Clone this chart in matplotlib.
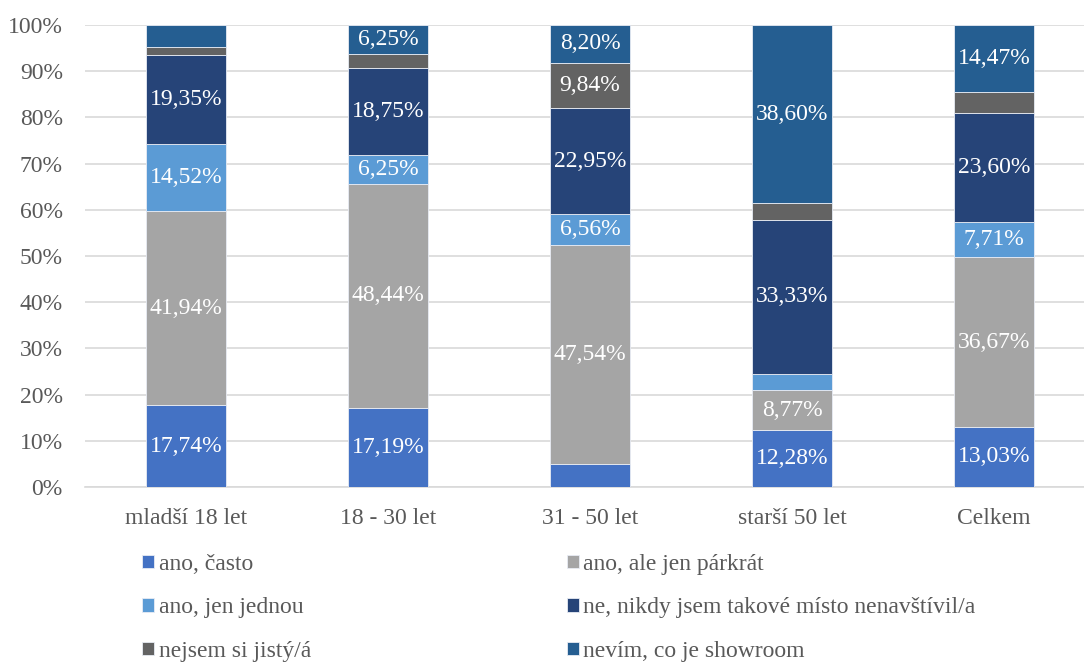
import matplotlib.pyplot as plt
import numpy as np

plt.rcParams['font.family'] = ['Liberation Serif', 'DejaVu Serif']

categories = ['mladší 18 let', '18 - 30 let', '31 - 50 let', 'starší 50 let', 'Celkem']
series_names = ['ano, často', 'ano, ale jen párkrát', 'ano, jen jednou',
                'ne, nikdy jsem takové místo nenavštívil/a', 'nejsem si jistý/á',
                'nevím, co je showroom']

ano_casto = [17.74, 17.19, 4.92, 12.28, 13.03]
ano_parkrat = [41.94, 48.44, 47.54, 8.77, 36.67]
ano_jednou = [14.52, 6.25, 6.56, 3.51, 7.71]
ne_nikdy = [19.35, 18.75, 22.95, 33.33, 23.60]
nejsem = [1.61, 3.13, 9.84, 3.51, 4.52]
nevim = [4.84, 6.25, 8.20, 38.60, 14.47]

colors = ['#4472C4', '#A5A5A5', '#5B9BD5', '#264478', '#636363', '#255E91']

fig = plt.figure(figsize=(10.84, 6.62), dpi=100)
ax = fig.add_axes([85 / 1084, 1 - 487 / 662, 1 - 85 / 1084, 462 / 662])

x = np.arange(len(categories))
bottom = np.zeros(len(categories))
handles = []
for name, vals, col in zip(series_names,
                           [ano_casto, ano_parkrat, ano_jednou, ne_nikdy, nejsem, nevim],
                           colors):
    vals = np.array(vals)
    bars = ax.bar(x, vals, 0.4, bottom=bottom, color=col, edgecolor='#E8ECF4',
                  linewidth=0.6, label=name, zorder=3)
    # small segments stay unlabelled
    labels = [f'{v:.2f}%'.replace('.', ',') if v >= 5 else '' for v in vals]
    ax.bar_label(bars, labels=labels, label_type='center', color='white',
                 fontsize=17, zorder=4)
    bottom += vals
    handles.append(bars)

ax.set_ylim(0, 100)
ax.set_xlim(-0.5, (1084 - 186) / 202)
ax.set_yticks(np.arange(0, 101, 10))
ax.set_yticklabels([f'{t}%' for t in range(0, 101, 10)])
ax.set_xticks(x)
ax.set_xticklabels(categories)
ax.tick_params(axis='both', length=0, labelsize=17, labelcolor='#595959')
ax.tick_params(axis='x', pad=15)
ax.tick_params(axis='y', pad=16)
ax.grid(axis='y', color='#D9D9D9', linewidth=1.2, zorder=0)
for side in ['top', 'right', 'left']:
    ax.spines[side].set_visible(False)
ax.spines['bottom'].set_color('#D9D9D9')
ax.spines['bottom'].set_linewidth(1.2)

# legend reads row by row: reorder for column-first filling
order = [0, 2, 4, 1, 3, 5]
fig.legend([handles[i] for i in order], [series_names[i] for i in order],
           loc='upper left', bbox_to_anchor=(142 / 1084, 1 - 554 / 662), ncol=2,
           frameon=False, fontsize=17, labelcolor='#595959',
           handlelength=0.5, handleheight=0.5, handletextpad=0.2,
           columnspacing=10.85, labelspacing=0.95, borderpad=0, borderaxespad=0)

fig.savefig('out.png', dpi=100)
